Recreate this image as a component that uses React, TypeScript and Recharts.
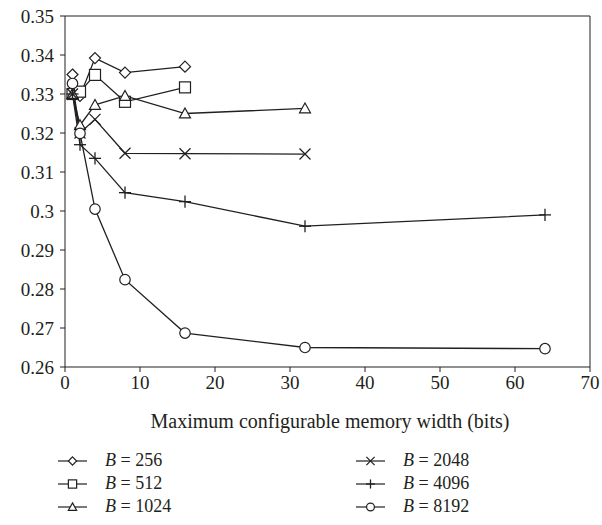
import React from 'react'
import { LineChart, Line, XAxis, YAxis, ReferenceLine } from 'recharts'

const widths = [1, 2, 4, 8, 16, 32, 64]
const b256 = [0.335, 0.3295, 0.3392, 0.3355, 0.337]
const b512 = [0.330, 0.3306, 0.3349, 0.328, 0.3317]
const b1024 = [0.330, 0.322, 0.3272, 0.3295, 0.325, 0.3263]
const b2048 = [0.330, 0.320, 0.3235, 0.3148, 0.3147, 0.3146]
const b4096 = [0.330, 0.317, 0.3135, 0.3047, 0.3024, 0.2961, 0.299]
const b8192 = [0.3327, 0.3199, 0.3005, 0.2824, 0.2687, 0.265, 0.2647]
const xTicks = [0, 10, 20, 30, 40, 50, 60, 70]
const yTicks = [0.26, 0.27, 0.28, 0.29, 0.3, 0.31, 0.32, 0.33, 0.34, 0.35]

const toRows = (vals: number[]) => vals.map((y, i) => ({ x: widths[i], y }))

type Kind = 'diamond' | 'square' | 'triangle' | 'cross' | 'plus' | 'circle'

const series: { name: string; kind: Kind; vals: number[] }[] = [
  { name: '256', kind: 'diamond', vals: b256 },
  { name: '512', kind: 'square', vals: b512 },
  { name: '1024', kind: 'triangle', vals: b1024 },
  { name: '2048', kind: 'cross', vals: b2048 },
  { name: '4096', kind: 'plus', vals: b4096 },
  { name: '8192', kind: 'circle', vals: b8192 },
]

const font = '"Liberation Serif", "Times New Roman", serif'
const ink = '#231f20'

function Marker({ kind, cx, cy, s = 1 }: { kind: Kind; cx: number; cy: number; s?: number }) {
  const p = { stroke: ink, strokeWidth: 1.2, fill: '#fff' }
  const r = 5.5 * s
  switch (kind) {
    case 'diamond':
      return <polygon {...p} points={`${cx},${cy - r} ${cx + r},${cy} ${cx},${cy + r} ${cx - r},${cy}`} />
    case 'square':
      return <rect {...p} x={cx - r} y={cy - r} width={2 * r} height={2 * r} />
    case 'triangle':
      return <polygon {...p} points={`${cx},${cy - r} ${cx + r},${cy + r * 0.8} ${cx - r},${cy + r * 0.8}`} />
    case 'cross':
      return (
        <g stroke={ink} strokeWidth={1.3}>
          <line x1={cx - r} y1={cy - r} x2={cx + r} y2={cy + r} />
          <line x1={cx - r} y1={cy + r} x2={cx + r} y2={cy - r} />
        </g>
      )
    case 'plus':
      return (
        <g stroke={ink} strokeWidth={1.3}>
          <line x1={cx - r * 1.1} y1={cy} x2={cx + r * 1.1} y2={cy} />
          <line x1={cx} y1={cy - r * 1.1} x2={cx} y2={cy + r * 1.1} />
        </g>
      )
    default:
      return <circle {...p} cx={cx} cy={cy} r={r * 0.95} />
  }
}

function LegendItem({ kind, name }: { kind: Kind; name: string }) {
  return (
    <div style={{ display: 'flex', alignItems: 'center', height: 23 }}>
      <svg width={32} height={16} style={{ marginRight: 16 }}>
        <line x1={1} y1={8} x2={30} y2={8} stroke={ink} strokeWidth={1.2} />
        <Marker kind={kind} cx={15.5} cy={8} s={0.75} />
      </svg>
      <span style={{ fontFamily: font, fontSize: 18, color: ink }}>
        <i>B</i> = {name}
      </span>
    </div>
  )
}

export default function App() {
  return (
    <div style={{ position: 'absolute', left: 0, top: 0, width: 602, height: 525, background: '#fff' }}>
      <LineChart width={602} height={400} margin={{ top: 16, right: 12, left: 0, bottom: 0 }}>
        <XAxis
          type="number"
          dataKey="x"
          domain={[0, 70]}
          ticks={xTicks}
          tickSize={5}
          tickMargin={4}
          stroke={ink}
          tick={{ fill: ink, fontFamily: font, fontSize: 19 }}
          height={33}
          allowDuplicatedCategory={false}
        />
        <YAxis
          type="number"
          dataKey="y"
          domain={[0.26, 0.35]}
          ticks={yTicks}
          tickSize={5}
          tickMargin={6}
          width={65}
          stroke={ink}
          tick={{ fill: ink, fontFamily: font, fontSize: 19 }}
        />
        <ReferenceLine y={0.35} stroke={ink} />
        <ReferenceLine x={70} stroke={ink} />
        {series.map((s) => (
          <Line
            key={s.name}
            data={toRows(s.vals)}
            dataKey="y"
            name={s.name}
            stroke={ink}
            strokeWidth={1.3}
            isAnimationActive={false}
            dot={(props: any) => <Marker key={`${s.name}-${props.index}`} kind={s.kind} cx={props.cx} cy={props.cy} />}
            activeDot={false}
          />
        ))}
      </LineChart>
      <div
        style={{
          position: 'absolute',
          left: 0,
          width: 602,
          top: 410,
          textAlign: 'center',
          fontFamily: font,
          fontSize: 20,
          color: ink,
          paddingLeft: 58,
          boxSizing: 'border-box',
        }}
      >
        Maximum configurable memory width (bits)
      </div>
      <div style={{ position: 'absolute', left: 57, top: 449 }}>
        {series.slice(0, 3).map((s) => (
          <LegendItem key={s.name} kind={s.kind} name={s.name} />
        ))}
      </div>
      <div style={{ position: 'absolute', left: 355, top: 449 }}>
        {series.slice(3).map((s) => (
          <LegendItem key={s.name} kind={s.kind} name={s.name} />
        ))}
      </div>
    </div>
  )
}
